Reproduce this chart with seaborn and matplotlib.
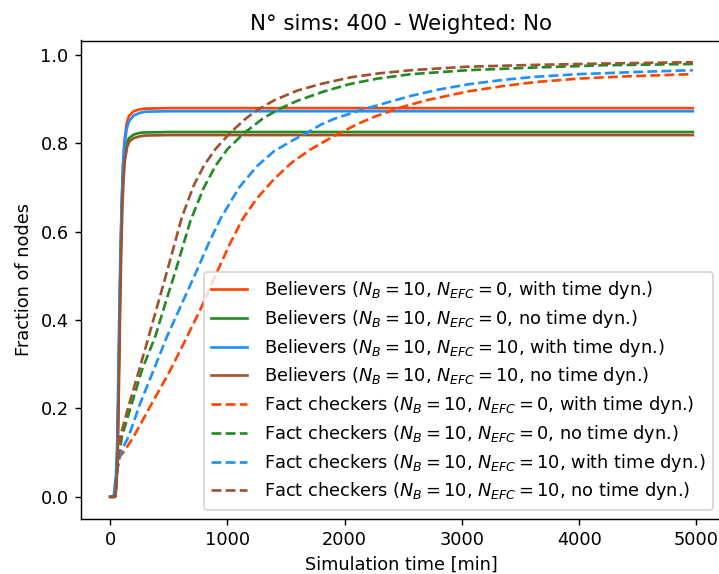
import matplotlib
matplotlib.use("Agg")
import matplotlib.pyplot as plt
import seaborn as sns

# --- values (time in min, fraction of nodes) ---
# Believers (solid lines)
bel_t_nefc0_dyn = [0, 40, 50, 60, 70, 80, 90, 100, 110, 120, 140, 160, 200, 250, 300, 500, 4970]
bel_v_nefc0_dyn = [0, 0.0, 0.02, 0.08, 0.22, 0.40, 0.55, 0.67, 0.75, 0.80, 0.845, 0.862, 0.873, 0.877, 0.879, 0.880, 0.880]

bel_t_nefc0_nodyn = [0, 40, 50, 60, 70, 80, 90, 100, 110, 120, 140, 160, 200, 250, 300, 500, 4970]
bel_v_nefc0_nodyn = [0, 0.0, 0.02, 0.08, 0.22, 0.40, 0.55, 0.66, 0.73, 0.77, 0.800, 0.812, 0.820, 0.824, 0.825, 0.826, 0.826]

bel_t_nefc10_dyn = [0, 30, 50, 60, 70, 80, 90, 100, 110, 120, 140, 160, 200, 250, 300, 500, 4970]
bel_v_nefc10_dyn = [0, 0.0, 0.05, 0.12, 0.28, 0.45, 0.58, 0.68, 0.75, 0.79, 0.832, 0.850, 0.863, 0.869, 0.872, 0.873, 0.873]

bel_t_nefc10_nodyn = [0, 45, 55, 65, 75, 85, 95, 105, 115, 125, 145, 165, 200, 250, 300, 500, 4970]
bel_v_nefc10_nodyn = [0, 0.0, 0.03, 0.10, 0.25, 0.42, 0.56, 0.66, 0.72, 0.76, 0.792, 0.805, 0.812, 0.816, 0.818, 0.819, 0.819]

# Fact checkers (dashed lines)
fc_t_nefc0_dyn = [0, 40, 60, 80, 128, 200, 357, 514, 642, 780, 913, 1020, 1127, 1250, 1400,
                  1550, 1700, 1850, 1950, 2100, 2250, 2483, 2700, 3054, 3350, 3624, 4000,
                  4400, 4970]
fc_v_nefc0_dyn = [0, 0.0, 0.06, 0.09, 0.106, 0.136, 0.212, 0.287, 0.355, 0.430, 0.510, 0.572,
                  0.628, 0.675, 0.720, 0.757, 0.785, 0.808, 0.822, 0.843, 0.860, 0.882, 0.898,
                  0.918, 0.930, 0.939, 0.947, 0.952, 0.957]

fc_t_nefc0_nodyn = [0, 40, 60, 80, 100, 186, 271, 385, 471, 556, 685, 799, 900, 1000, 1140,
                    1300, 1440, 1600, 1826, 2050, 2283, 2568, 3054, 3624, 4195, 4970]
fc_v_nefc0_nodyn = [0, 0.0, 0.06, 0.10, 0.136, 0.212, 0.287, 0.363, 0.438, 0.510, 0.625, 0.700,
                    0.750, 0.787, 0.823, 0.856, 0.878, 0.897, 0.918, 0.935, 0.947, 0.957,
                    0.966, 0.972, 0.977, 0.980]

fc_t_nefc10_dyn = [0, 40, 60, 80, 100, 157, 257, 371, 485, 613, 742, 842, 942, 1099, 1250,
                   1400, 1550, 1670, 1800, 1912, 2110, 2300, 2568, 2800, 3054, 3350, 3624,
                   4000, 4500, 4970]
fc_v_nefc10_dyn = [0, 0.0, 0.06, 0.09, 0.106, 0.136, 0.212, 0.287, 0.363, 0.438, 0.514, 0.575,
                   0.630, 0.700, 0.748, 0.783, 0.806, 0.823, 0.843, 0.856, 0.873, 0.888,
                   0.908, 0.922, 0.934, 0.944, 0.951, 0.957, 0.962, 0.966]

fc_t_nefc10_nodyn = [0, 40, 60, 86, 157, 243, 328, 400, 485, 613, 713, 800, 900, 1020, 1150,
                     1256, 1400, 1598, 1800, 2055, 2300, 2568, 3054, 3624, 4195, 4970]
fc_v_nefc10_nodyn = [0, 0.0, 0.06, 0.136, 0.205, 0.283, 0.362, 0.430, 0.510, 0.634, 0.705,
                     0.750, 0.788, 0.823, 0.855, 0.876, 0.898, 0.920, 0.935, 0.950, 0.959,
                     0.966, 0.974, 0.978, 0.981, 0.984]

labels = [
    r'Believers ($N_B = 10$, $N_{EFC} = 0$, with time dyn.)',
    r'Believers ($N_B = 10$, $N_{EFC} = 0$, no time dyn.)',
    r'Believers ($N_B = 10$, $N_{EFC} = 10$, with time dyn.)',
    r'Believers ($N_B = 10$, $N_{EFC} = 10$, no time dyn.)',
    r'Fact checkers ($N_B = 10$, $N_{EFC} = 0$, with time dyn.)',
    r'Fact checkers ($N_B = 10$, $N_{EFC} = 0$, no time dyn.)',
    r'Fact checkers ($N_B = 10$, $N_{EFC} = 10$, with time dyn.)',
    r'Fact checkers ($N_B = 10$, $N_{EFC} = 10$, no time dyn.)',
]


def main():
    series = [
        (bel_t_nefc0_dyn, bel_v_nefc0_dyn),
        (bel_t_nefc0_nodyn, bel_v_nefc0_nodyn),
        (bel_t_nefc10_dyn, bel_v_nefc10_dyn),
        (bel_t_nefc10_nodyn, bel_v_nefc10_nodyn),
        (fc_t_nefc0_dyn, fc_v_nefc0_dyn),
        (fc_t_nefc0_nodyn, fc_v_nefc0_nodyn),
        (fc_t_nefc10_dyn, fc_v_nefc10_dyn),
        (fc_t_nefc10_nodyn, fc_v_nefc10_nodyn),
    ]
    colors = ['orangered', 'forestgreen', 'dodgerblue', 'sienna'] * 2
    styles = ['-'] * 4 + ['--'] * 4

    fig = plt.figure(figsize=(719 / 128, 574 / 128), dpi=128)
    ax = fig.add_axes([81 / 719, 1 - 518.5 / 574, 641 / 719, 478 / 574])

    for (t, v), lab, c, ls in zip(series, labels, colors, styles):
        sns.lineplot(x=t, y=v, ax=ax, color=c, linestyle=ls, linewidth=1.5,
                     label=lab, estimator=None, sort=False)

    ax.set_title('N° sims: 400 - Weighted: No', fontsize=12)
    ax.set_xlabel('Simulation time [min]')
    ax.set_ylabel('Fraction of nodes')
    ax.legend(loc='lower right', fontsize=10, labelspacing=0.38, handletextpad=1.0)

    fig.savefig('out.png', dpi=128)
    plt.close(fig)


if __name__ == "__main__":
    main()
